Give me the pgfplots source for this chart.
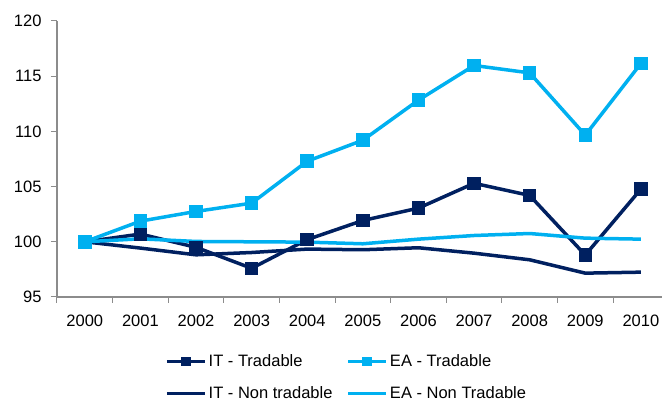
\documentclass[border=0pt]{standalone}
\usepackage{fontspec}
\setmainfont{Liberation Sans}
\usepackage{pgfplots}
\usepackage{pgfplotstable}
\pgfplotsset{compat=1.18}
\definecolor{navy}{RGB}{0,32,96}
\definecolor{sky}{RGB}{0,176,240}

\pgfplotstableread{
x itt eat itn ean
0  100.0  100.0  100.0  100.0
1  100.7  101.87 99.43  100.27
2  99.5   102.75 98.82  100.03
3  97.6   103.5  99.03  100.0
4  100.2  107.3  99.34  99.97
5  101.93 109.2  99.28  99.82
6  103.05 112.83 99.46  100.24
7  105.3  115.97 98.97  100.57
8  104.2  115.3  98.37  100.75
9  98.8   109.66 97.16  100.33
10 104.77 116.15 97.25  100.24
}\data

\begin{document}
\begin{tikzpicture}[x=1pt,y=1pt]
\begin{axis}[
  at={(57pt,104pt)}, anchor=south west,
  scale only axis, width=605pt, height=276pt,
  xmin=-0.5, xmax=10.38, ymin=95, ymax=120,
  axis lines*=left,
  axis line style={black!45, line width=1.2pt},
  tick style={black!45, line width=1pt},
  tick align=outside,
  major tick length=6pt, minor tick length=6pt,
  ytick={95,100,...,120},
  xtick={0,...,10},
  xticklabels={2000,2001,2002,2003,2004,2005,2006,2007,2008,2009,2010},
  major x tick style={draw=none},
  minor xtick={-0.5,0.5,...,9.5},
  /pgf/number format/assume math mode=true,
  ticklabel style={font=\fontsize{16.5}{19}\selectfont},
  yticklabel style={xshift=-6pt},
  xticklabel style={yshift=-8pt},
  legend columns=2,
  legend cell align=left,
  legend style={draw=none, fill=none, inner sep=0pt,
    at={(0.1785,-0.199)}, anchor=north west,
    row sep=13pt,
    nodes={text height=12pt, text depth=3pt, inner sep=2pt},
    /tikz/every even column/.append style={column sep=12pt},
    font=\fontsize{16.5}{19}\selectfont},
  legend image code/.code={\draw[mark repeat=2,mark phase=2,#1,mark size=3pt] plot coordinates {(0pt,0pt) (19pt,0pt) (38pt,0pt)};},
]
\addplot[navy, line width=3.5pt, mark=square*, mark size=5pt, mark options={solid}] table[x=x,y=itt] {\data};
\addlegendentry{IT - Tradable}
\addplot[sky, line width=3.5pt, mark=square*, mark size=5pt, mark options={solid}] table[x=x,y=eat] {\data};
\addlegendentry{EA - Tradable}
\addplot[navy, line width=3.5pt] table[x=x,y=itn] {\data};
\addlegendentry{IT - Non tradable}
\addplot[sky, line width=3.5pt] table[x=x,y=ean] {\data};
\addlegendentry{EA - Non Tradable}
\end{axis}
\pgfresetboundingbox
\path (0pt,0pt) rectangle (662pt,401pt);
\end{tikzpicture}
\end{document}
